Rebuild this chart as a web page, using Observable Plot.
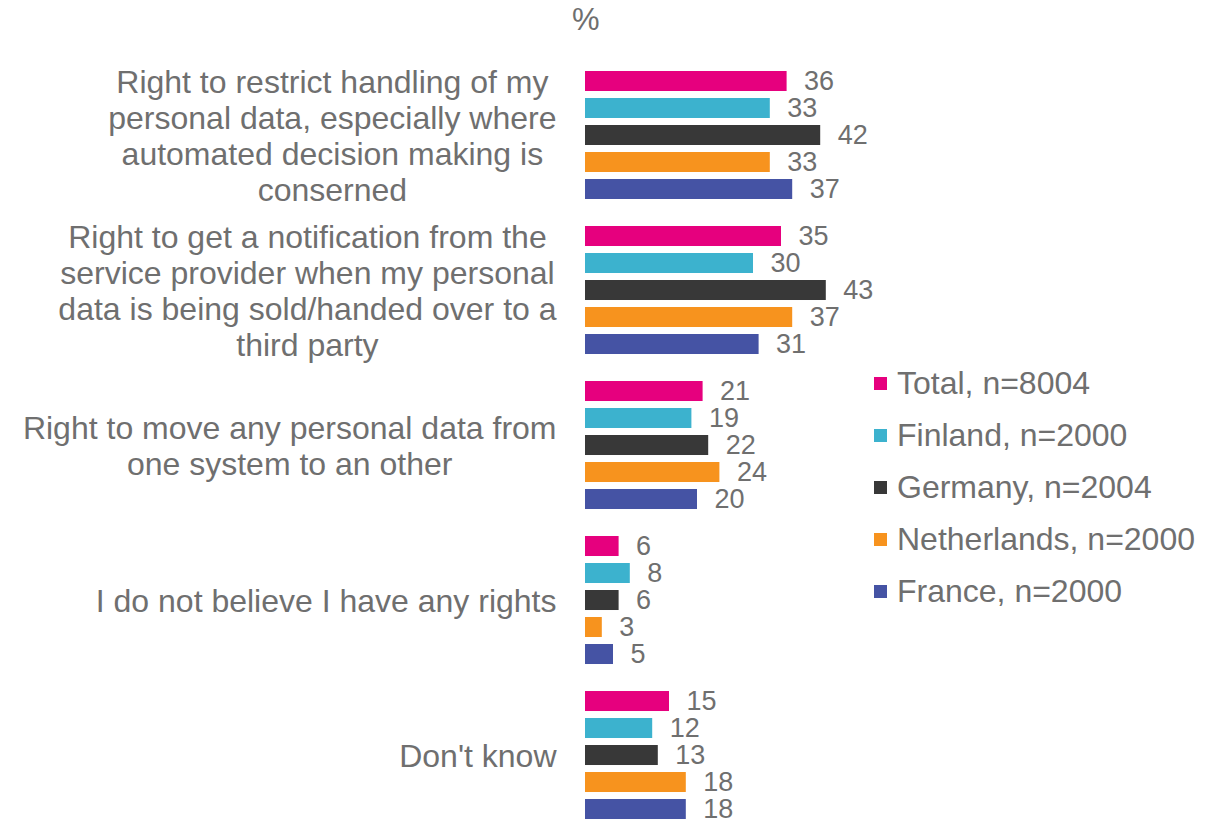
<!DOCTYPE html>
<html>
<head>
<meta charset="utf-8">
<script src="https://cdn.jsdelivr.net/npm/d3@7"></script>
<script src="https://cdn.jsdelivr.net/npm/@observablehq/plot@0.6"></script>
<style>
  html, body { margin: 0; padding: 0; background: #fff; }
  #wrap { position: relative; width: 1218px; height: 825px; font-family: "Liberation Sans", Arial, sans-serif; color: #6f6f6f; }
  #unit { position: absolute; left: 572px; top: 2px; font-size: 31px; line-height: 36px; }
  #legend { position: absolute; left: 874px; top: 357px; font-size: 32px; }
  #legend .row { height: 52px; line-height: 52px; white-space: nowrap; }
  #legend .sw { display: inline-block; width: 13px; height: 13px; margin-right: 10px; vertical-align: middle; position: relative; top: -2px; }
  #chart { position: absolute; left: 0; top: 0; }
</style>
</head>
<body>
<div id="wrap">
  <div id="chart"></div>
  <div id="unit">%</div>
  <div id="legend"></div>
</div>
<script>
const categories = [
  "Right to restrict handling of my\npersonal data, especially where\nautomated decision making is\nconserned",
  "Right to get a notification from the\nservice provider when my personal\ndata is being sold/handed over to a\nthird party",
  "Right to move any personal data from\none system to an other",
  "I do not believe I have any rights",
  "Don't know"
];
const series = ["Total, n=8004", "Finland, n=2000", "Germany, n=2004", "Netherlands, n=2000", "France, n=2000"];
const colors = ["#e6007e", "#3cb2ce", "#383838", "#f7931e", "#4553a4"];
const totalValues = [36, 35, 21, 6, 15];
const finlandValues = [33, 30, 19, 8, 12];
const germanyValues = [42, 43, 22, 6, 13];
const netherlandsValues = [33, 37, 24, 3, 18];
const franceValues = [37, 31, 20, 5, 18];
const seriesValues = [totalValues, finlandValues, germanyValues, netherlandsValues, franceValues];

const data = [];
categories.forEach((c, i) => {
  series.forEach((s, j) => {
    data.push({category: c, series: s, value: seriesValues[j][i]});
  });
});

const fontFamily = "'Liberation Sans', Arial, sans-serif";
const catFontSize = 32;
const ctx = document.createElement("canvas").getContext("2d");
ctx.font = `${catFontSize}px ${fontFamily}`;
const labelGap = 29;
const catMarks = categories.map(c => {
  const w = d3.max(c.split("\n"), line => ctx.measureText(line).width);
  return Plot.text([c], {
    fy: d => d,
    text: d => d,
    frameAnchor: "left",
    textAnchor: "middle",
    dx: -(labelGap + w / 2),
    fontSize: catFontSize,
    lineHeight: 36 / catFontSize
  });
});

const chart = Plot.plot({
  width: 1218,
  height: 825,
  marginLeft: 585,
  marginRight: 73,
  marginTop: 66,
  marginBottom: 1.5,
  style: {fontFamily: fontFamily, fontSize: "27px", color: "#6f6f6f", background: "transparent", overflow: "visible"},
  x: {domain: [0, 100], axis: null},
  y: {domain: series, axis: null, paddingInner: 0.27, paddingOuter: 0.135},
  fy: {domain: categories, axis: null, paddingInner: 0.113, paddingOuter: 0, round: false},
  color: {domain: series, range: colors},
  marks: [
    Plot.barX(data, {x: "value", y: "series", fy: "category", fill: "series"}),
    Plot.text(data, {x: "value", y: "series", fy: "category", text: d => String(d.value), textAnchor: "start", dx: 17, fontSize: 27}),
    ...catMarks
  ]
});
document.getElementById("chart").appendChild(chart);

const legend = d3.select("#legend");
series.forEach((s, j) => {
  const row = legend.append("div").attr("class", "row");
  row.append("span").attr("class", "sw").style("background", colors[j]);
  row.append("span").text(s);
});
</script>
</body>
</html>
